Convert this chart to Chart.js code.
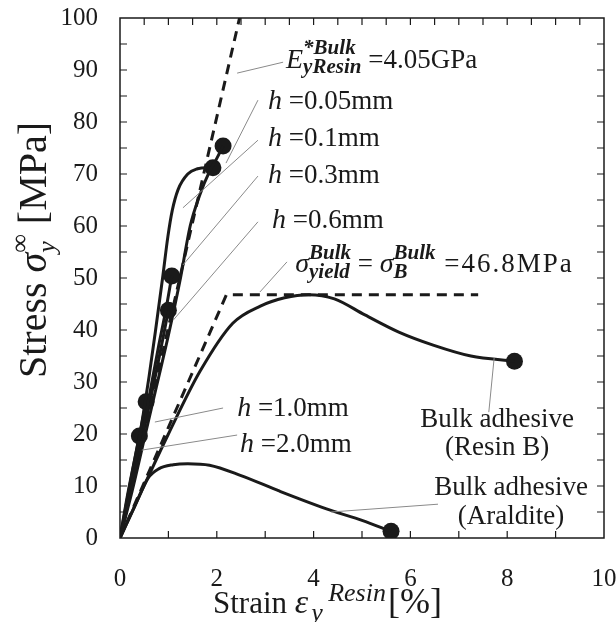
<!DOCTYPE html>
<html lang="en">
<head>
<meta charset="UTF-8">
<title>Stress - strain of adhesive</title>
<script src="https://cdn.jsdelivr.net/npm/chart.js"></script>
<style>
    body { margin: 0; background: #fff; }
    #wrap { width: 616px; height: 622px; position: relative; }
</style>
</head>
<body>
<div id="wrap"><canvas id="chart"></canvas></div>
<script>
    // strain [%] and stress [MPa]
    const h005Strain = [0, 0.25, 0.5, 0.75, 1.0, 1.25, 1.45, 1.65, 1.85, 2.0, 2.13];
    const h005Stress = [0, 9, 19, 29, 39, 50, 60, 66, 70.5, 73, 75.4];
    const h01Strain = [0, 0.15, 0.3, 0.45, 0.6, 0.75, 0.88, 0.99, 1.08, 1.2, 1.4, 1.6, 1.8, 1.92];
    const h01Stress = [0, 6, 13, 22, 31, 41, 50, 58, 63, 67, 70, 71, 71.2, 71.2];
    const h03Strain = [0, 0.2, 0.4, 0.6, 0.8, 0.95, 1.07];
    const h03Stress = [0, 8, 17, 27, 37, 44, 50.4];
    const h06Strain = [0, 0.25, 0.5, 0.75, 0.9, 1.0];
    const h06Stress = [0, 10, 21, 32, 39, 43.8];
    const h10Strain = [0, 0.15, 0.3, 0.45, 0.54];
    const h10Stress = [0, 8, 15, 22, 26.2];
    const h20Strain = [0, 0.12, 0.25, 0.4];
    const h20Stress = [0, 6, 12.5, 19.6];
    const resinBStrain = [0, 0.58, 1.0, 1.65, 2.33, 2.9, 3.4, 3.9, 4.43, 5.06, 5.76, 6.47, 7.25, 8.15];
    const resinBStress = [0, 11.7, 20, 32, 41.3, 44.6, 46.2, 46.8, 46, 42.9, 39.6, 37.1, 35, 34];
    const araldStrain = [0, 0.3, 0.58, 0.8, 1.1, 1.4, 1.85, 2.5, 3.3, 4.36, 5.0, 5.6];
    const araldStress = [0, 6, 11.5, 13.3, 14.1, 14.3, 14.0, 12, 9, 5.3, 3.4, 1.3];
    const modulusStrain = [0, 2.47];
    const modulusStress = [0, 100];
    const yieldStrain = [0, 2.2, 7.4];
    const yieldStress = [0, 46.8, 46.8];

    const xTicks = [0, 2, 4, 6, 8, 10];
    const yTicks = [0, 10, 20, 30, 40, 50, 60, 70, 80, 90, 100];

    const serif = '"Liberation Serif", "Times New Roman", serif';
    const ink = '#1a1a1a';

    function pts(xs, ys) {
        return xs.map((x, i) => ({ x: x, y: ys[i] }));
    }
    function curve(xs, ys) {
        return { data: pts(xs, ys), showLine: true, borderColor: ink, borderWidth: 3,
                 pointRadius: 0, tension: 0.4, cubicInterpolationMode: 'monotone' };
    }
    function dashed(xs, ys) {
        return { data: pts(xs, ys), showLine: true, borderColor: ink, borderWidth: 3,
                 borderDash: [10, 7], pointRadius: 0, tension: 0 };
    }
    function endOf(xs, ys) {
        return { x: xs[xs.length - 1], y: ys[ys.length - 1] };
    }

    const curves = [
        [h005Strain, h005Stress], [h01Strain, h01Stress], [h03Strain, h03Stress],
        [h06Strain, h06Stress], [h10Strain, h10Stress], [h20Strain, h20Stress],
        [resinBStrain, resinBStress], [araldStrain, araldStress]
    ];

    const datasets = [dashed(modulusStrain, modulusStress), dashed(yieldStrain, yieldStress)];
    curves.forEach(c => datasets.push(curve(c[0], c[1])));
    datasets.push({ data: curves.map(c => endOf(c[0], c[1])), showLine: false,
                    pointRadius: 8.5, pointBackgroundColor: ink, pointBorderWidth: 0 });

    // labels: text position and leader line, all in data units
    const R = 'normal 27px ' + serif;
    const I = 'italic 28px ' + serif;
    const S = 'bold italic 21px ' + serif;
    const labels = [
        { at: [3.43, 90.4], lead: [[2.42, 89.4], [3.37, 91.5]],
          parts: [{ t: 'E', f: I }, { t: '*Bulk', f: S, dy: -14, hold: true }, { t: 'yResin', f: S, dy: 5 }, { t: ' =4.05GPa', f: R }] },
        { at: [3.06, 82.5], lead: [[2.85, 84.2], [2.19, 72.1]], parts: [{ t: 'h', f: I }, { t: ' =0.05mm', f: R }] },
        { at: [3.06, 75.4], lead: [[2.85, 76.5], [1.30, 63.5]], parts: [{ t: 'h', f: I }, { t: ' =0.1mm', f: R }] },
        { at: [3.06, 68.3], lead: [[2.85, 69.6], [1.30, 52.5]], parts: [{ t: 'h', f: I }, { t: ' =0.3mm', f: R }] },
        { at: [3.14, 59.6], lead: [[2.85, 60.8], [1.10, 41.9]], parts: [{ t: 'h', f: I }, { t: ' =0.6mm', f: R }] },
        { at: [2.42, 23.5], lead: [[2.13, 25.0], [0.72, 22.3]], parts: [{ t: 'h', f: I }, { t: ' =1.0mm', f: R }] },
        { at: [2.48, 16.5], lead: [[2.42, 19.8], [0.45, 16.9]], parts: [{ t: 'h', f: I }, { t: ' =2.0mm', f: R }] },
        { at: [3.62, 51.2], lead: [[3.45, 53.1], [2.89, 47.3]],
          parts: [{ t: 'σ', f: I }, { t: 'Bulk', f: S, dy: -13, hold: true }, { t: 'yield', f: S, dy: 6 },
                  { t: ' = ', f: R }, { t: 'σ', f: I }, { t: 'Bulk', f: S, dy: -13, hold: true }, { t: 'B', f: S, dy: 6 },
                  { t: ' =46.8MPa', f: R, ls: 2 }] },
        { at: [7.79, 21.3], center: true, lead: [[7.73, 34.6], [7.62, 24.2]], parts: [{ t: 'Bulk adhesive', f: R }] },
        { at: [7.79, 15.9], center: true, parts: [{ t: '(Resin B)', f: R }] },
        { at: [8.08, 8.3], center: true, lead: [[6.57, 6.5], [4.36, 5.0]], parts: [{ t: 'Bulk adhesive', f: R }] },
        { at: [8.08, 2.6], center: true, parts: [{ t: '(Araldite)', f: R }] }
    ];

    // rich text: parts drawn left to right; "hold" keeps the cursor so the
    // next part stacks under it (sup/sub), "dx" nudges the cursor first
    function layoutRich(ctx, x, y, parts, draw) {
        let cx = x, held = 0;
        parts.forEach(p => {
            ctx.font = p.f;
            ctx.letterSpacing = (p.ls || 0) + 'px';
            cx += p.dx || 0;
            if (draw) ctx.fillText(p.t, cx, y + (p.dy || 0));
            const tw = ctx.measureText(p.t).width;
            if (p.hold) { held = tw; } else { cx += Math.max(tw, held); held = 0; }
        });
        ctx.letterSpacing = '0px';
        return cx - x;
    }
    function richWidth(ctx, parts) {
        return layoutRich(ctx, 0, 0, parts, false);
    }
    function drawRich(ctx, x, y, parts) {
        layoutRich(ctx, x, y, parts, true);
    }

    // keep the plot box where the figure has it (no extra room for label overhang)
    function noOverhang(s) {
        s.paddingTop = 0; s.paddingBottom = 0; s.paddingLeft = 0; s.paddingRight = 0;
    }

    const overlay = {
        id: 'overlay',
        afterDraw(chart) {
            const ctx = chart.ctx;
            const a = chart.chartArea;
            const sx = chart.scales.x, sy = chart.scales.y;
            const px = v => sx.getPixelForValue(v);
            const py = v => sy.getPixelForValue(v);
            ctx.save();

            // frame and inward ticks
            ctx.strokeStyle = ink;
            ctx.lineWidth = 1.5;
            ctx.strokeRect(a.left, a.top, a.right - a.left, a.bottom - a.top);
            ctx.lineWidth = 1.2;
            ctx.beginPath();
            for (let v = 1; v < 10; v += 1) {
                ctx.moveTo(px(v), a.bottom); ctx.lineTo(px(v), a.bottom - 7);
            }
            for (let v = 0.5; v < 10; v += 0.5) {
                ctx.moveTo(px(v), a.top); ctx.lineTo(px(v), a.top + 7);
            }
            for (let v = 5; v < 100; v += 5) {
                ctx.moveTo(a.left, py(v)); ctx.lineTo(a.left + 7, py(v));
                ctx.moveTo(a.right, py(v)); ctx.lineTo(a.right - 7, py(v));
            }
            ctx.stroke();

            // leader lines
            ctx.strokeStyle = '#8a8a8a';
            ctx.lineWidth = 1;
            ctx.beginPath();
            labels.forEach(l => {
                if (!l.lead) return;
                ctx.moveTo(px(l.lead[0][0]), py(l.lead[0][1]));
                ctx.lineTo(px(l.lead[1][0]), py(l.lead[1][1]));
            });
            ctx.stroke();

            // label texts
            ctx.fillStyle = ink;
            ctx.textBaseline = 'alphabetic';
            ctx.textAlign = 'left';
            labels.forEach(l => {
                let x = px(l.at[0]);
                if (l.center) x -= richWidth(ctx, l.parts) / 2;
                drawRich(ctx, x, py(l.at[1]), l.parts);
            });

            // x axis title
            drawRich(ctx, 213, 613, [
                { t: 'Strain ', f: '31px ' + serif },
                { t: 'ε', f: 'italic 34px ' + serif },
                { t: 'y', f: 'italic 26px ' + serif, dy: 8, dx: 3, hold: true },
                { t: 'Resin', f: 'italic 26px ' + serif, dy: -12, dx: 17 },
                { t: '[%]', f: '36px ' + serif, dx: 2 }
            ]);

            // y axis title, rotated
            const yParts = [
                { t: 'Stress ', f: '40px ' + serif },
                { t: 'σ', f: 'italic 40px ' + serif },
                { t: '∞', f: '26px ' + serif, dy: -18, hold: true },
                { t: 'y', f: 'italic 26px ' + serif, dy: 9 },
                { t: ' [MPa]', f: '40px ' + serif }
            ];
            ctx.translate(46, 250);
            ctx.rotate(-Math.PI / 2);
            drawRich(ctx, -richWidth(ctx, yParts) / 2, 0, yParts);
            ctx.restore();
        }
    };

    new Chart(document.getElementById('chart'), {
        type: 'scatter',
        data: { datasets: datasets },
        options: {
            responsive: true,
            maintainAspectRatio: false,
            animation: false,
            layout: { padding: { top: 18, right: 12, left: 0, bottom: 0 } },
            plugins: { legend: { display: false }, tooltip: { enabled: false } },
            scales: {
                x: {
                    type: 'linear', min: 0, max: 10,
                    grid: { display: false, drawTicks: false },
                    border: { display: false },
                    afterBuildTicks: s => { s.ticks = xTicks.map(v => ({ value: v })); },
                    afterFit: s => { s.height = 84; noOverhang(s); },
                    ticks: { padding: 26, color: ink, font: { family: serif, size: 25 } }
                },
                y: {
                    type: 'linear', min: 0, max: 100,
                    grid: { display: false, drawTicks: false },
                    border: { display: false },
                    afterBuildTicks: s => { s.ticks = yTicks.map(v => ({ value: v })); },
                    afterFit: s => { s.width = 120; noOverhang(s); },
                    ticks: { padding: 22, color: ink, font: { family: serif, size: 25 } }
                }
            }
        },
        plugins: [overlay]
    });
</script>
</body>
</html>
